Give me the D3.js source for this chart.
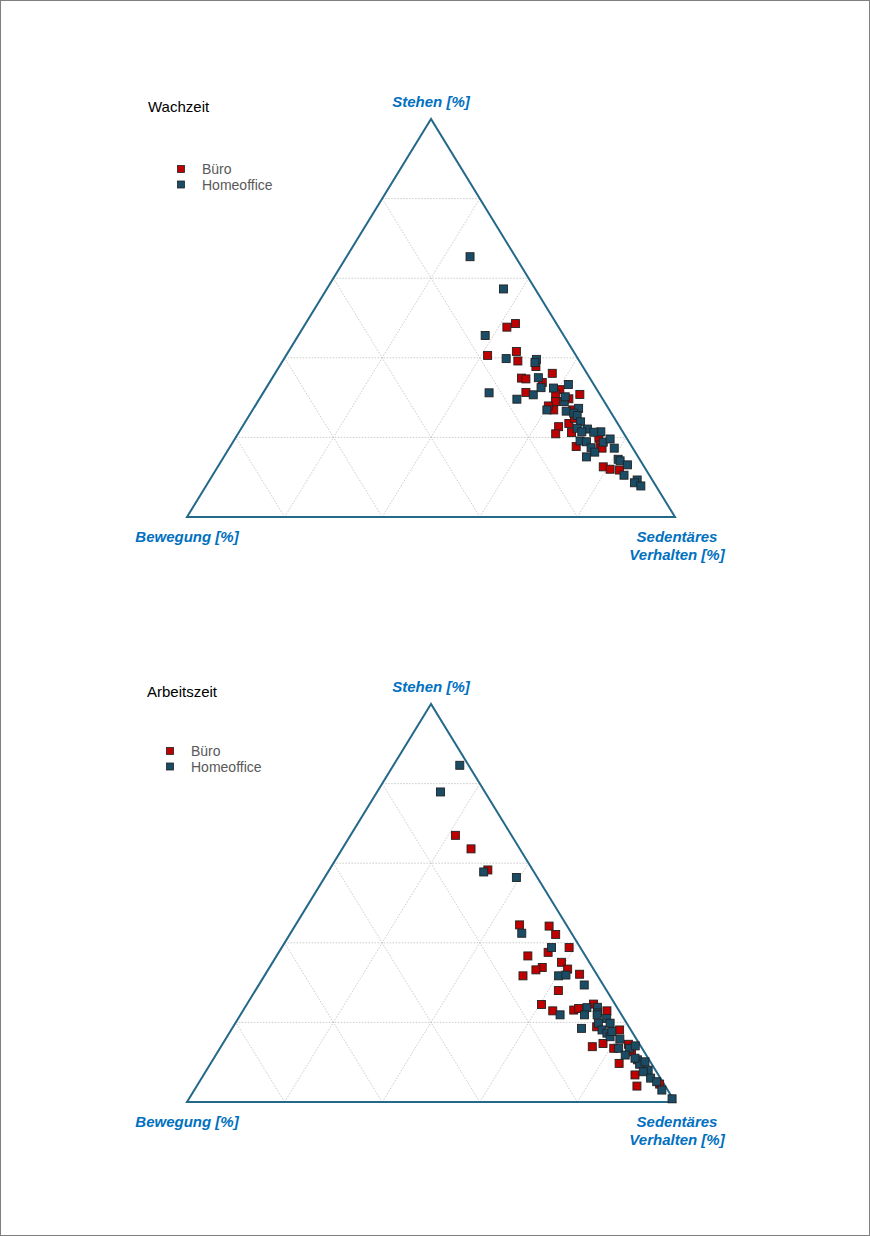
<!DOCTYPE html>
<html lang="de">
<head>
<meta charset="utf-8">
<title>Ternärdiagramme</title>
<script src="https://cdn.jsdelivr.net/npm/d3@7"></script>
<style>
  body { margin: 0; background: #fff; }
  svg text { font-family: "Liberation Sans", Arial, sans-serif; }
  .grid line { stroke: #bdbdbd; stroke-width: 0.8; stroke-dasharray: 1.5 1.5; }
  .frame { fill: none; stroke: #24688a; stroke-width: 2; }
  .axlab { fill: #0070c0; font-weight: bold; font-style: italic; font-size: 15px; }
  .title { fill: #000; font-size: 15px; }
  .legtext { fill: #595959; font-size: 14px; }
</style>
</head>
<body>
<script>
// groups
var groups = ["Büro", "Homeoffice"];
var colors = ["#c00000", "#1a4c66"];
var gridTicks = [20, 40, 60, 80];

// Wachzeit: [Sedentäres Verhalten %, Stehen %] (Bewegung = Rest)
var wachBuero = [
  [41.7,47.7],[43.0,48.6],[41.3,40.6],[46.7,41.6],[48.2,39.2],[52.6,37.8],[51.1,34.9],
  [52.1,34.7],[56.8,36.1],[55.9,33.8],[60.4,32.0],[60.1,30.9],[65.1,30.8],[63.4,29.7],
  [53.8,31.3],[61.0,29.0],[61.7,26.9],[60.1,27.9],[65.6,26.9],[66.5,23.5],[64.8,22.7],
  [65.1,20.9],[68.2,21.2],[74.5,19.8],[70.9,17.7],[75.6,18.1],[79.0,12.6],[80.7,12.0],
  [82.7,11.8],[76.4,17.3],[67.0,24.8]
];
var wachHome = [
  [25.3,65.4],[36.2,57.3],[38.3,45.6],[45.5,39.8],[51.8,39.6],[51.9,38.8],[54.5,35.0],
  [56.3,32.5],[58.9,32.4],[61.5,33.3],[55.6,30.7],[46.3,31.2],[52.8,29.6],[62.8,29.0],
  [60.3,26.9],[64.4,26.6],[66.6,27.3],[66.2,26.1],[67.2,25.5],[68.7,23.9],[68.8,22.3],
  [71.0,22.1],[70.2,21.4],[74.1,21.4],[72.7,21.3],[71.0,19.1],[72.4,18.9],[75.9,18.8],
  [76.9,19.6],[74.1,17.4],[75.4,16.3],[74.3,15.1],[78.9,17.3],[81.1,14.5],[81.7,14.1],
  [83.7,13.1],[84.3,10.5],[87.6,9.3],[87.4,8.6],[89.1,7.8],[62.4,30.2]
];

// Arbeitszeit
var arbBuero = [
  [21.5,67.0],[26.4,63.6],[32.5,58.3],[45.9,44.5],[52.1,44.2],[54.5,42.1],[55.2,37.6],
  [58.9,38.8],[51.5,36.7],[59.2,35.1],[55.9,33.8],[54.9,33.2],[61.3,33.4],[53.0,31.7],
  [64.4,32.1],[62.1,28.0],[60.4,24.5],[63.5,22.9],[67.7,23.1],[68.5,23.5],[71.0,24.6],
  [74.6,22.9],[74.5,18.9],[79.6,18.1],[77.9,14.7],[76.1,13.9],[80.7,13.5],[83.2,14.5],
  [84.8,12.6],[83.7,9.7],[88.4,6.8],[94.6,4.5],[90.2,4.0]
];
var arbHome = [
  [13.6,84.6],[13.0,77.9],[31.9,57.8],[39.3,56.4],[47.4,42.4],[55.3,38.8],[60.3,31.7],
  [61.7,31.9],[66.7,29.4],[65.5,21.9],[70.1,23.7],[72.2,23.8],[70.5,21.9],[72.9,22.4],
  [75.5,21.0],[74.4,19.8],[76.8,19.8],[71.6,18.5],[76.0,18.1],[77.4,17.3],[78.5,16.4],
  [80.8,15.8],[81.7,13.5],[83.9,13.5],[84.8,14.1],[83.9,11.8],[87.0,10.6],[88.0,9.5],
  [88.8,10.1],[90.5,8.0],[89.7,7.6],[92.0,6.0],[93.7,5.1],[95.8,3.0],[99.0,0.8],
  [73.1,21.9],[78.2,17.7],[86.3,11.0]
];

var W = 870, H = 1236;
var svg = d3.select("body").append("svg")
  .attr("width", W).attr("height", H);

svg.append("rect")
  .attr("x", 0.5).attr("y", 0.5)
  .attr("width", W - 1).attr("height", H - 1)
  .attr("fill", "none").attr("stroke", "#7f7f7f");

function drawTernary(opts) {
  var x = d3.scaleLinear().domain([0, 100]).range([187, 675]);
  var y = d3.scaleLinear().domain([0, 100]).range([opts.base, opts.base - 398]);
  // s = sedentär, t = stehen
  function px(s, t) { return [x(s + t / 2), y(t)]; }

  var g = svg.append("g");

  // grid
  var gl = g.append("g").attr("class", "grid");
  gridTicks.forEach(function(k) {
    var segs = [
      [px(0, k), px(100 - k, k)],          // Stehen = k
      [px(k, 0), px(k, 100 - k)],          // Sedentär = k
      [px(100 - k, 0), px(0, 100 - k)]     // Bewegung = k
    ];
    segs.forEach(function(sg) {
      gl.append("line")
        .attr("x1", sg[0][0]).attr("y1", sg[0][1])
        .attr("x2", sg[1][0]).attr("y2", sg[1][1]);
    });
  });

  // frame
  var corners = [px(0, 100), px(0, 0), px(100, 0)];
  g.append("path")
    .attr("class", "frame")
    .attr("d", d3.line()(corners) + "Z");

  // points
  var sets = [opts.buero, opts.home];
  sets.forEach(function(data, i) {
    g.append("g").selectAll("rect")
      .data(data)
      .enter()
      .append("rect")
      .attr("x", function(d) { return px(d[0], d[1])[0] - 4; })
      .attr("y", function(d) { return px(d[0], d[1])[1] - 4; })
      .attr("width", 8).attr("height", 8)
      .attr("fill", colors[i])
      .attr("stroke", "#222")
      .attr("stroke-width", 0.9);
  });

  // axis labels
  g.append("text").attr("class", "axlab")
    .attr("x", x(50)).attr("y", y(100) - 12)
    .attr("text-anchor", "middle").text("Stehen [%]");
  g.append("text").attr("class", "axlab")
    .attr("x", x(0)).attr("y", y(0) + 25)
    .attr("text-anchor", "middle").text("Bewegung [%]");
  g.append("text").attr("class", "axlab")
    .attr("x", x(100) + 2).attr("y", y(0) + 25)
    .attr("text-anchor", "middle").text("Sedentäres");
  g.append("text").attr("class", "axlab")
    .attr("x", x(100) + 2).attr("y", y(0) + 43)
    .attr("text-anchor", "middle").text("Verhalten [%]");

  // title
  g.append("text").attr("class", "title")
    .attr("x", opts.titleX).attr("y", opts.base - 405)
    .text(opts.title);

  // legend
  groups.forEach(function(name, i) {
    var ly = opts.legY + i * 15.5;
    g.append("rect")
      .attr("x", opts.legX - 3.5).attr("y", ly - 3.5)
      .attr("width", 7).attr("height", 7)
      .attr("fill", colors[i]).attr("stroke", "#222").attr("stroke-width", 0.8);
    g.append("text").attr("class", "legtext")
      .attr("x", opts.legX + 21).attr("y", ly + 5)
      .text(name);
  });
}

drawTernary({ base: 517, title: "Wachzeit", titleX: 148, legX: 181, legY: 169,
  buero: wachBuero, home: wachHome });
drawTernary({ base: 1102, title: "Arbeitszeit", titleX: 147, legX: 170, legY: 751,
  buero: arbBuero, home: arbHome });
</script>
</body>
</html>
